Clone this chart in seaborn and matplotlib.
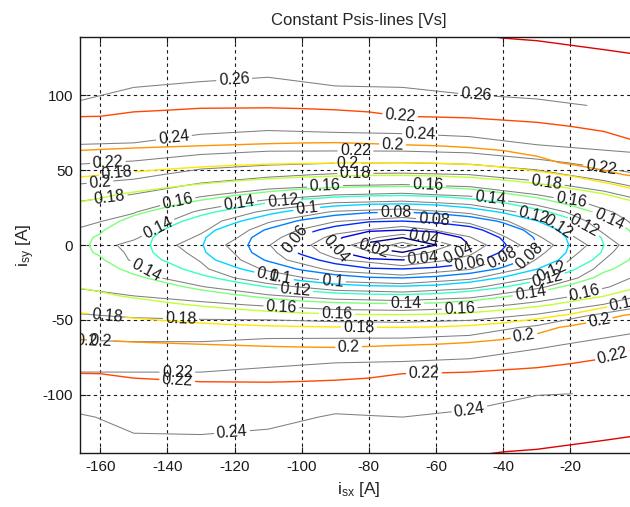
import numpy as np
import matplotlib
matplotlib.use("Agg")
import matplotlib.pyplot as plt
import seaborn as sns

nan = np.nan

# Smooth (fitted) flux map. Upper half only,
# the map is symmetric about isy = 0.
isx_fit = [-170, -160, -150, -140, -130, -120, -110, -100, -90, -80,
           -70, -60, -50, -40, -30, -20, -10, 0]
isy_fit_upper = [0, 5, 10, 16, 22, 28, 34, 40, 47, 55, 67, 86, 115, 150]
psi_fit_upper = [
    [0.1450, 0.1376, 0.1260, 0.1138, 0.1010, 0.0860, 0.0710, 0.0550, 0.0378, 0.0166, 0.0045, 0.0200, 0.0400, 0.0580, 0.0800, 0.1010, 0.1200, 0.1424],
    [0.1455, 0.1385, 0.1269, 0.1149, 0.1022, 0.0876, 0.0728, 0.0576, 0.0437, 0.0266, 0.0203, 0.0290, 0.0439, 0.0620, 0.0820, 0.1027, 0.1217, 0.1429],
    [0.1470, 0.1415, 0.1297, 0.1181, 0.1058, 0.0924, 0.0783, 0.0661, 0.0539, 0.0429, 0.0401, 0.0440, 0.0537, 0.0700, 0.0865, 0.1073, 0.1266, 0.1445],
    [0.1502, 0.1466, 0.1354, 0.1259, 0.1132, 0.1024, 0.0904, 0.0780, 0.0685, 0.0616, 0.0600, 0.0635, 0.0697, 0.0825, 0.0995, 0.1167, 0.1369, 0.1478],
    [0.1547, 0.1516, 0.1431, 0.1348, 0.1241, 0.1143, 0.1039, 0.0943, 0.0863, 0.0814, 0.0800, 0.0832, 0.0906, 0.1015, 0.1145, 0.1290, 0.1454, 0.1525],
    [0.1608, 0.1567, 0.1506, 0.1438, 0.1363, 0.1277, 0.1195, 0.1123, 0.1064, 0.1029, 0.1018, 0.1043, 0.1103, 0.1191, 0.1310, 0.1435, 0.1525, 0.1588],
    [0.1678, 0.1628, 0.1580, 0.1531, 0.1476, 0.1421, 0.1361, 0.1306, 0.1265, 0.1241, 0.1233, 0.1253, 0.1302, 0.1381, 0.1458, 0.1530, 0.1595, 0.1727],
    [0.1748, 0.1709, 0.1668, 0.1626, 0.1585, 0.1544, 0.1506, 0.1472, 0.1446, 0.1434, 0.1427, 0.1442, 0.1473, 0.1520, 0.1573, 0.1640, 0.1742, 0.1887],
    [0.1829, 0.1804, 0.1775, 0.1745, 0.1715, 0.1686, 0.1661, 0.1640, 0.1623, 0.1614, 0.1612, 0.1621, 0.1643, 0.1682, 0.1737, 0.1821, 0.1965, 0.2025],
    [0.1920, 0.1902, 0.1883, 0.1865, 0.1847, 0.1832, 0.1820, 0.1812, 0.1805, 0.1800, 0.1800, 0.1807, 0.1827, 0.1868, 0.1946, 0.2026, 0.2058, 0.2092],
    [0.2043, 0.2035, 0.2026, 0.2018, 0.2009, 0.2000, 0.1993, 0.1988, 0.1985, 0.1992, 0.2000, 0.2011, 0.2032, 0.2063, 0.2095, 0.2130, 0.2158, 0.2192],
    [0.2203, 0.2200, 0.2191, 0.2187, 0.2182, 0.2181, 0.2180, 0.2182, 0.2185, 0.2190, 0.2200, 0.2205, 0.2210, 0.2221, 0.2228, 0.2238, 0.2248, 0.2261],
    [0.2280, 0.2279, 0.2279, 0.2279, 0.2279, 0.2281, 0.2282, 0.2283, 0.2285, 0.2289, 0.2294, 0.2301, 0.2310, 0.2321, 0.2328, 0.2338, 0.2348, 0.2359],
    [0.2373, 0.2375, 0.2377, 0.2380, 0.2382, 0.2385, 0.2388, 0.2391, 0.2394, 0.2400, 0.2401, 0.2413, 0.2430, 0.2440, 0.2445, 0.2455, 0.2465, 0.2475],
]

# Measured flux map (grey contours), coarser grid, no data in the far corners
isx_meas = [-170, -150, -130, -110, -90, -70, -50, -30, -10, 0]
isy_meas = [-150, -115, -86, -67, -55, -47, -40, -34, -28, -22, -16, -10, -5, 0,
            5, 10, 16, 22, 28, 34, 40, 47, 55, 67, 86, 115, 150]
psi_meas = [
    [0.250, 0.249, 0.248, 0.250, 0.251, 0.252, 0.255, 0.258, nan, nan],
    [0.243, 0.236, 0.236, 0.237, 0.241, 0.240, 0.242, 0.247, nan, nan],
    [0.221, 0.221, 0.221, 0.224, 0.228, 0.229, 0.230, 0.233, 0.234, nan],
    [0.204, 0.203, 0.203, 0.206, 0.207, 0.208, 0.211, 0.218, 0.224, 0.227],
    [0.191, 0.188, 0.188, 0.190, 0.189, 0.188, 0.191, 0.203, 0.214, 0.217],
    [0.182, 0.178, 0.176, 0.174, 0.170, 0.169, 0.172, 0.182, 0.205, 0.211],
    [0.174, 0.168, 0.164, 0.158, 0.152, 0.150, 0.154, 0.164, 0.181, 0.196],
    [0.167, 0.160, 0.153, 0.142, 0.133, 0.129, 0.136, 0.152, 0.166, 0.179],
    [0.160, 0.154, 0.141, 0.126, 0.112, 0.108, 0.116, 0.137, 0.159, 0.165],
    [0.156, 0.147, 0.130, 0.110, 0.092, 0.086, 0.097, 0.121, 0.152, 0.162],
    [0.154, 0.143, 0.123, 0.097, 0.076, 0.067, 0.079, 0.107, 0.146, 0.159],
    [0.152, 0.139, 0.119, 0.087, 0.062, 0.048, 0.065, 0.101, 0.140, 0.157],
    [0.152, 0.138, 0.115, 0.084, 0.053, 0.029, 0.057, 0.095, 0.135, 0.154],
    [0.152, 0.136, 0.111, 0.081, 0.048, 0.014, 0.050, 0.090, 0.130, 0.152],
    [0.157, 0.142, 0.117, 0.086, 0.055, 0.031, 0.059, 0.097, 0.137, 0.157],
    [0.161, 0.147, 0.123, 0.091, 0.066, 0.052, 0.069, 0.105, 0.143, 0.160],
    [0.167, 0.154, 0.128, 0.102, 0.081, 0.072, 0.084, 0.112, 0.150, 0.164],
    [0.173, 0.161, 0.137, 0.116, 0.098, 0.092, 0.103, 0.127, 0.157, 0.168],
    [0.180, 0.171, 0.150, 0.133, 0.119, 0.115, 0.123, 0.144, 0.166, 0.173],
    [0.190, 0.180, 0.164, 0.151, 0.142, 0.138, 0.145, 0.161, 0.175, 0.188],
    [0.200, 0.192, 0.177, 0.167, 0.161, 0.159, 0.163, 0.173, 0.190, 0.205],
    [0.212, 0.206, 0.192, 0.184, 0.178, 0.177, 0.180, 0.190, 0.213, 0.219],
    [0.222, 0.218, 0.209, 0.204, 0.201, 0.200, 0.203, 0.215, 0.226, 0.229],
    [0.240, 0.239, 0.233, 0.229, 0.230, 0.231, 0.234, 0.240, 0.246, 0.249],
    [0.258, 0.254, 0.252, 0.251, 0.253, 0.254, 0.255, 0.256, 0.258, nan],
    [0.265, 0.263, 0.262, 0.261, 0.263, 0.263, 0.265, 0.266, nan, nan],
    [0.275, 0.274, 0.273, 0.274, 0.274, 0.275, 0.278, 0.280, nan, nan],
]

levels_fit = [0.02, 0.04, 0.06, 0.08, 0.1, 0.12, 0.14, 0.16, 0.18, 0.2, 0.22, 0.24]
levels_meas = [0.02, 0.04, 0.06, 0.08, 0.1, 0.12, 0.14, 0.16, 0.18, 0.2, 0.22,
               0.24, 0.26, 0.28]

# where the contour labels sit (isx, isy)
labels_fit = [(-70.8, 84.7), (-73, 64.5), (-155, 48), (-105.5, 26.7), (-98.4, 22),
              (-72, 20), (-102, 4.7), (-78.5, -2), (-90.5, -5.6), (-64, -8),
              (-53.4, -5.6), (-50, -11), (-32, -8), (-106, -18), (-109.6, -22),
              (-102, -32), (-69, -39), (-89.5, -47), (-32, -29), (-27, -21),
              (-4, -36), (-158, -47), (-83, -56.7), (-160, -65), (-86, -70),
              (-34, -58), (-11.5, -48.7), (-137, -88), (-63.6, -85.6),
              (-7.8, -71), (-17, 8), (-9, 13)]
labels_meas = [(-120, 106), (-48, 103), (-64.7, 75.5), (-138, 71), (-84, 64.5),
               (-86.3, 56.7), (-84, 48.7), (-93, 38.7), (-62.4, 42), (-137, 30),
               (-118.7, 28.7), (-44, 28.7), (-31, 18.7), (-25, 8), (-60.6, 16.7),
               (-63.6, 6.7), (-142, 8), (-147, -20), (-91, -27), (-106, -39),
               (-53, -43), (-25, -22), (-16, -30), (-136, -54.7), (-164, -62),
               (-137, -90), (-121, -116.7), (-50, -111), (-157.7, 54.7),
               (-160, 40), (-157, 28.7), (-11, 50), (-27, 42), (-20, 25.6),
               (-40, -10)]

sns.set_theme(style="white")
plt.rcParams['font.family'] = ['Liberation Sans', 'DejaVu Sans']
plt.rcParams['mathtext.default'] = 'regular'
plt.rcParams['axes.unicode_minus'] = False

# mirror the fitted half-map to negative isy
up = np.array(psi_fit_upper)
psi_fit = np.vstack([up[:0:-1], up])
yu = np.array(isy_fit_upper)
isy_fit = np.concatenate([-yu[:0:-1], yu])

fig = plt.figure(figsize=(6.3, 5.07), dpi=100)
ax = fig.add_axes([0.127, 0.1065, 0.885, 0.8205])

Xm, Ym = np.meshgrid(isx_meas, isy_meas)
cs_meas = ax.contour(Xm, Ym, np.array(psi_meas), levels=levels_meas,
                     colors=[(0.5, 0.5, 0.5)], linewidths=0.75)

Xf, Yf = np.meshgrid(isx_fit, isy_fit)
jet = matplotlib.colormaps['jet']
cs_fit = ax.contour(Xf, Yf, psi_fit, levels=levels_fit, cmap=jet,
                    norm=plt.Normalize(0.02, 0.26), linewidths=1.0)

fmt = lambda v: f"{v:g}"
ax.clabel(cs_meas, manual=labels_meas, fmt=fmt, fontsize=11.5, colors='k',
          inline=True, inline_spacing=2)
ax.clabel(cs_fit, manual=labels_fit, fmt=fmt, fontsize=11.5, colors='k',
          inline=True, inline_spacing=2)

ax.set_xlim(-166, 0)
ax.set_ylim(-139, 139)
ax.set_xticks([-160, -140, -120, -100, -80, -60, -40, -20])
ax.set_yticks([-100, -50, 0, 50, 100])
ax.grid(True, color='k', linestyle=(0, (3, 3)), linewidth=0.8)
ax.set_axisbelow(True)
ax.tick_params(direction='in', length=4, width=0.8, colors='k', labelsize=11,
               pad=5, bottom=True, left=True, top=True, right=True)
for s in ax.spines.values():
    s.set_color('k')
    s.set_linewidth(1.0)

ax.set_title('Constant Psis-lines [Vs]', fontsize=12, pad=9)
ax.set_xlabel('$i_{sx}$ [A]', fontsize=12.5, labelpad=4)
ax.set_ylabel('$i_{sy}$ [A]', fontsize=12.5, labelpad=4)

fig.savefig('out.png', dpi=100, facecolor='white')
